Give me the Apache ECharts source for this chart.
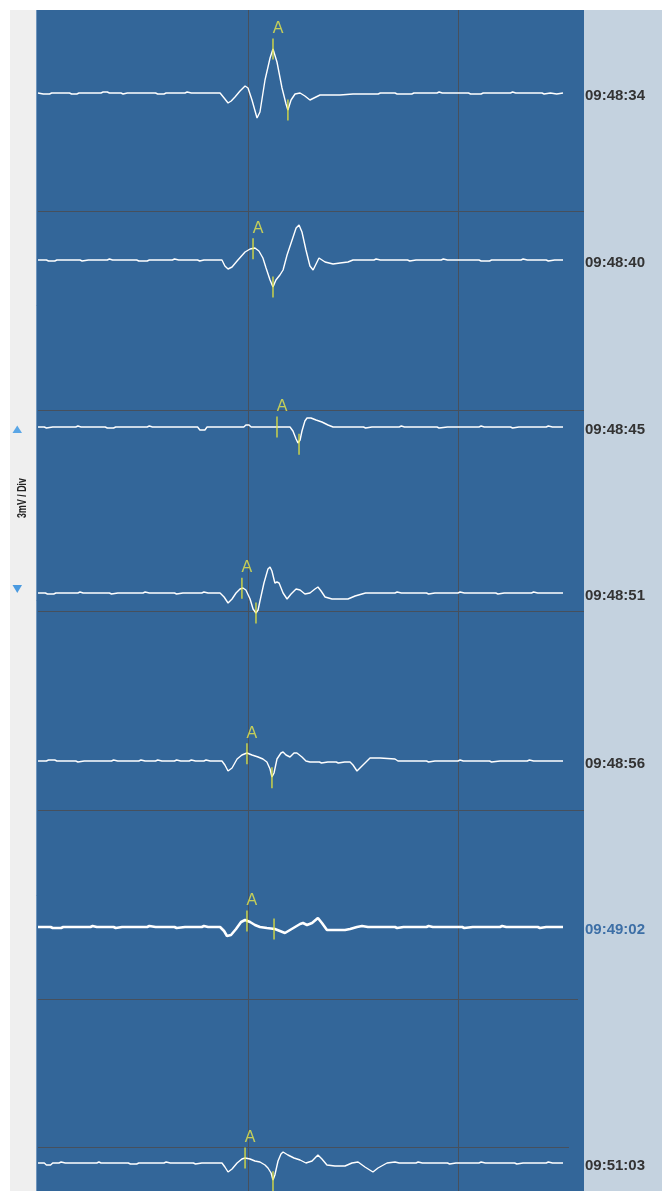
<!DOCTYPE html>
<html>
<head>
<meta charset="utf-8">
<script src="https://cdn.jsdelivr.net/npm/echarts@6/dist/echarts.min.js"></script>
<style>
  html, body { margin: 0; padding: 0; background: #ffffff; }
  #chart { width: 662px; height: 1191px; }
</style>
</head>
<body>
<div id="chart"></div>
<script>
// ---- Recorded strips: timestamp of each strip ----
const stripTimes = ['09:48:34', '09:48:40', '09:48:45', '09:48:51', '09:48:56', '09:49:02', '09:51:03'];

// ---- Waveforms: [time in ms, amplitude in mV] ----
const wave0 = [[0,0],[25,-0.015],[55,-0.015],[65,0],[150,0],[160,-0.015],[185,-0.015],[195,0],[300,0],[310,0.015],[330,0.015],[340,0],[395,0],[405,-0.015],[425,0],[560,0],[570,-0.015],[600,-0.015],[610,0],[700,0],[710,0.015],[730,0],[850,0],
  [867,0],[890,-0.09],[905,-0.15],[920,-0.12],[938,-0.06],[962,0.03],[986,0.105],[1000,0.075],[1019,-0.105],[1043,-0.375],[1057,-0.285],[1081,0.195],[1105,0.525],[1119,0.66],[1138,0.465],[1162,0.075],[1181,-0.165],[1190,-0.255],[1205,-0.105],[1224,-0.015],[1248,0],[1271,-0.045],[1295,-0.105],[1314,-0.075],[1343,-0.03],[1438,-0.03],[1500,-0.015],
  [1620,-0.015],[1630,0],[1700,0],[1710,-0.015],[1780,-0.015],[1790,0],[1900,0],[1910,0.015],[1925,0],[2050,0],[2060,-0.015],[2110,-0.015],[2120,0],[2250,0],[2260,0.015],[2275,0],[2400,0],[2410,-0.015],[2440,0],[2470,-0.015],[2500,0]];

const wave1 = [[0,0],[40,0],[50,-0.015],[80,-0.015],[90,0],[200,0],[210,-0.015],[240,0],[330,0],[340,0.015],[355,0],[470,0],[480,-0.015],[520,-0.015],[530,0],[640,0],[650,0.015],[670,0],[760,0],[770,-0.015],[790,0],
  [876,0],[890,-0.09],[905,-0.135],[924,-0.105],[952,0],[986,0.12],[1010,0.165],[1033,0.18],[1052,0.135],[1071,0.03],[1086,-0.12],[1105,-0.3],[1119,-0.405],[1133,-0.3],[1152,-0.225],[1167,-0.15],[1186,0.075],[1210,0.3],[1229,0.48],[1243,0.525],[1257,0.42],[1276,0.15],[1295,-0.09],[1310,-0.15],[1324,-0.06],[1338,0.03],[1367,-0.03],[1405,-0.06],[1438,-0.045],[1476,-0.03],[1500,0],
  [1600,0],[1610,0.015],[1630,0],[1760,0],[1770,-0.015],[1800,0],[1920,0],[1930,0.015],[1950,0],[2100,0],[2110,-0.015],[2150,-0.015],[2160,0],[2300,0],[2310,0.015],[2330,0],[2420,0],[2430,-0.015],[2460,0],[2500,0]];

const wave2 = [[0,0],[30,0],[40,-0.015],[70,0],[180,0],[190,0.015],[205,0],[320,0],[330,-0.015],[360,-0.015],[370,0],[520,0],[530,0.015],[545,0],[760,0],[771,-0.045],[795,-0.045],[805,0],[980,0],[990,0.03],[1005,0.03],[1015,0],[1100,0],
  [1200,0],[1214,-0.06],[1229,-0.18],[1238,-0.24],[1248,-0.195],[1257,-0.06],[1271,0.09],[1281,0.135],[1300,0.135],[1324,0.105],[1352,0.075],[1381,0.03],[1405,0],
  [1550,0],[1560,-0.015],[1590,0],[1720,0],[1730,0.015],[1745,0],[1900,0],[1910,-0.015],[1950,0],[2100,0],[2110,0.015],[2125,0],[2250,0],[2260,-0.015],[2290,0],[2420,0],[2430,0.015],[2450,0],[2500,0]];

const wave3 = [[0,0],[35,0],[45,-0.015],[75,-0.015],[85,0],[190,0],[200,0.015],[215,0],[340,0],[350,-0.015],[380,0],[500,0],[510,0.015],[530,0],[650,0],[660,-0.015],[690,0],[780,0],[790,0.015],[810,0],
  [867,0],[886,-0.06],[905,-0.15],[924,-0.09],[943,0],[962,0.06],[976,0.075],[990,0.045],[1010,-0.09],[1024,-0.24],[1038,-0.3],[1048,-0.255],[1057,-0.12],[1076,0.15],[1095,0.36],[1105,0.39],[1114,0.33],[1128,0.15],[1138,0.165],[1148,0.15],[1167,0],[1186,-0.09],[1205,-0.015],[1229,0.06],[1248,0.045],[1271,-0.015],[1295,0],[1319,0.06],[1333,0.09],[1348,0.03],[1367,-0.06],[1400,-0.09],[1438,-0.09],[1476,-0.09],[1510,-0.045],[1543,-0.015],[1560,0],
  [1700,0],[1710,0.015],[1730,0],[1850,0],[1860,-0.015],[1890,0],[2000,0],[2010,0.015],[2030,0],[2180,0],[2190,-0.015],[2220,0],[2350,0],[2360,0.015],[2380,0],[2500,0]];

const wave4 = [[0,0],[40,0],[50,0.015],[80,0.015],[90,0],[180,0],[190,-0.015],[220,0],[350,0],[360,0.015],[380,0],[480,0],[490,0.015],[510,0],[560,0],[570,0.015],[590,0],[650,0],[660,0.015],[680,0],[720,0],[730,0.015],[750,0],[790,0],[800,0.015],[820,0],
  [876,0],[890,-0.06],[905,-0.15],[924,-0.105],[948,0.03],[971,0.09],[995,0.12],[1019,0.09],[1048,0.06],[1071,0.03],[1090,-0.015],[1105,-0.12],[1114,-0.24],[1124,-0.18],[1138,0.03],[1157,0.12],[1167,0.135],[1181,0.09],[1200,0.06],[1219,0.12],[1233,0.12],[1257,0.06],[1276,0],[1295,-0.015],[1340,-0.015],[1350,-0.03],[1380,-0.015],[1420,-0.015],[1430,-0.03],[1460,-0.015],[1486,-0.015],[1500,-0.06],[1519,-0.15],[1538,-0.09],[1562,-0.015],[1581,0.045],[1629,0.045],[1700,0.03],[1714,0],
  [1850,0],[1860,-0.015],[1890,0],[2000,0],[2010,0.015],[2025,0],[2150,0],[2160,-0.015],[2200,0],[2330,0],[2340,0.015],[2360,0],[2500,0]];

const wave5 = [[0,0],[60,0],[70,-0.015],[110,-0.015],[120,0],[250,0],[260,0.015],[280,0],[360,0],[370,-0.015],[400,0],[520,0],[530,0.015],[560,0],[650,0],[660,-0.015],[700,0],[780,0],[790,0.015],[810,0],
  [867,0],[886,-0.06],[900,-0.135],[919,-0.12],[943,-0.03],[967,0.075],[986,0.105],[1010,0.075],[1033,0.03],[1057,0],[1090,-0.015],[1128,-0.03],[1152,-0.06],[1176,-0.09],[1200,-0.045],[1224,0],[1248,0.045],[1262,0.06],[1281,0.03],[1305,0.06],[1333,0.135],[1352,0.06],[1376,-0.045],[1414,-0.045],[1462,-0.045],[1486,-0.03],[1519,0],[1543,0.015],[1571,0],
  [1700,0],[1710,-0.015],[1740,0],[1850,0],[1860,0.015],[1880,0],[2020,0],[2030,-0.015],[2070,0],[2200,0],[2210,0.015],[2230,0],[2380,0],[2390,-0.015],[2420,0],[2500,0]];

const wave6 = [[0,0],[30,0],[40,-0.03],[60,-0.03],[70,0],[100,0],[110,0.015],[130,0],[280,0],[290,0.015],[300,0],[430,0],[440,-0.015],[470,-0.015],[480,0],[600,0],[610,0.015],[630,0],[740,0],[750,-0.015],[780,0],
  [876,0],[890,-0.06],[905,-0.135],[924,-0.09],[948,0],[971,0.06],[986,0.075],[1010,0.06],[1033,0.03],[1057,0.015],[1081,-0.03],[1095,-0.075],[1110,-0.15],[1119,-0.255],[1128,-0.18],[1143,0.03],[1157,0.135],[1167,0.165],[1190,0.12],[1219,0.075],[1248,0.045],[1276,0],[1305,0.03],[1333,0.12],[1352,0.06],[1376,-0.03],[1414,-0.045],[1462,-0.045],[1495,0],[1524,0.015],[1557,-0.06],[1595,-0.135],[1619,-0.075],[1662,0],[1700,0.015],[1720,0],
  [1800,0],[1810,0.015],[1830,0],[1950,0],[1960,-0.015],[1990,0],[2100,0],[2110,0.015],[2130,0],[2270,0],[2280,-0.015],[2310,0],[2420,0],[2430,0.015],[2450,0],[2500,0]];

const waves = [wave0, wave1, wave2, wave3, wave4, wave5, wave6];

// ---- Annotation ticks on each strip: [time ms, mV, tag] ----
const marks0 = [[1119, 0.66, 'A'], [1190, -0.255, '']];
const marks1 = [[1024, 0.17, 'A'], [1119, -0.405, '']];
const marks2 = [[1138, 0, 'A'], [1243, -0.26, '']];
const marks3 = [[971, 0.07, 'A'], [1038, -0.3, '']];
const marks4 = [[995, 0.11, 'A'], [1114, -0.25, '']];
const marks5 = [[995, 0.09, 'A'], [1124, -0.03, '']];
const marks6 = [[986, 0.075, 'A'], [1119, -0.28, '']];
const marks = [marks0, marks1, marks2, marks3, marks4, marks5, marks6];

// ---- Layout ----
const FONT = "'Liberation Sans', Arial, Helvetica, sans-serif";
const PANEL_LEFT = 38, PANEL_TOP = 10, PANEL_WIDTH = 546, PANEL_BOTTOM = 1191;
const TIME_SPAN = 2600;        // ms across the panel width
const TIME_GRID = 1000;        // ms between vertical division lines
const STRIP_ZERO = [93, 260, 427, 593, 761, 927, 1163]; // y of each strip's zero line
const STRIP_HALF = 60;         // px above / below the zero line
const MV_HALF = 0.9;           // mV shown above / below the zero line
const SELECTED = 5;            // highlighted strip
const DIVIDERS = [[211, 584], [410, 584], [611, 584], [810, 584], [999, 578], [1147, 569]];

const grids = [{ left: PANEL_LEFT, top: PANEL_TOP, width: PANEL_WIDTH, height: PANEL_BOTTOM - PANEL_TOP, outerBoundsMode: 'none' }];
const xAxes = [{
  gridIndex: 0, type: 'value', min: 0, max: TIME_SPAN, interval: TIME_GRID,
  axisLine: { show: false }, axisTick: { show: false }, axisLabel: { show: false },
  splitLine: { show: true, showMinLine: false, showMaxLine: false, lineStyle: { color: '#46505d', width: 1 } }
}];
const yAxes = [{ gridIndex: 0, type: 'value', show: false, splitLine: { show: false } }];
const series = [];

stripTimes.forEach((label, i) => {
  const g = i + 1;
  grids.push({ left: PANEL_LEFT, top: STRIP_ZERO[i] - STRIP_HALF, width: PANEL_WIDTH, height: STRIP_HALF * 2, outerBoundsMode: 'none' });
  xAxes.push({ gridIndex: g, type: 'value', min: 0, max: TIME_SPAN, show: false, splitLine: { show: false } });
  yAxes.push({ gridIndex: g, type: 'value', min: -MV_HALF, max: MV_HALF, show: false, splitLine: { show: false } });
  const sel = i === SELECTED;
  series.push({
    type: 'line', name: label, xAxisIndex: g, yAxisIndex: g,
    data: waves[i], symbol: 'none', silent: true, z: 3, clip: false,
    lineStyle: { color: '#ffffff', width: sel ? 2.6 : 1.4 },
    endLabel: {
      show: true, formatter: label, distance: 22, offset: [0, 3],
      color: sel ? '#3d6fa6' : '#333333', fontWeight: 'bold', fontSize: 15, fontFamily: FONT
    }
  });
  series.push({
    type: 'scatter', xAxisIndex: g, yAxisIndex: g, data: marks[i], silent: true, z: 4, clip: false,
    symbol: 'rect', symbolSize: [1.6, 21], itemStyle: { color: '#e3e33c' },
    label: {
      show: true, position: 'top', distance: 2, offset: [5, 0],
      formatter: p => p.value[2], color: '#e8e84a', fontSize: 16, fontFamily: FONT
    }
  });
});

// Frame pieces: side strips, panel fill, border, dividers, scale caption and arrows
const graphic = [
  { type: 'rect', z: -10, shape: { x: 10, y: 10, width: 26, height: 1181 }, style: { fill: '#efefef' } },
  { type: 'rect', z: -10, shape: { x: 36, y: 10, width: 548, height: 1181 }, style: { fill: '#336699' } },
  { type: 'rect', z: -10, shape: { x: 584, y: 10, width: 78, height: 1181 }, style: { fill: '#c4d2df' } },
  { type: 'line', z: -5, shape: { x1: 36.5, y1: 10, x2: 36.5, y2: 1191 }, style: { stroke: '#6f95bd', lineWidth: 1 } }
];
DIVIDERS.forEach(([y, x2]) => {
  graphic.push({ type: 'line', z: 1, shape: { x1: PANEL_LEFT, y1: y + 0.5, x2: x2, y2: y + 0.5 }, style: { stroke: '#46505d', lineWidth: 1.2 } });
});
graphic.push({
  type: 'text', z: 5, x: 22, y: 498, rotation: Math.PI / 2, scaleX: 0.68,
  style: { text: '3mV / Div', font: 'bold 13px ' + FONT, fill: '#222222', align: 'center', verticalAlign: 'middle' }
});
graphic.push({ type: 'polygon', z: 5, shape: { points: [[12.5, 433], [22, 433], [17.25, 425.5]] }, style: { fill: '#5aa6e6' } });
graphic.push({ type: 'polygon', z: 5, shape: { points: [[12.5, 585], [22, 585], [17.25, 593]] }, style: { fill: '#4a9ae0' } });

const chart = echarts.init(document.getElementById('chart'), null, { renderer: 'canvas' });
chart.setOption({
  backgroundColor: '#ffffff',
  animation: false,
  grid: grids,
  xAxis: xAxes,
  yAxis: yAxes,
  graphic: graphic,
  series: series
});
</script>
</body>
</html>
